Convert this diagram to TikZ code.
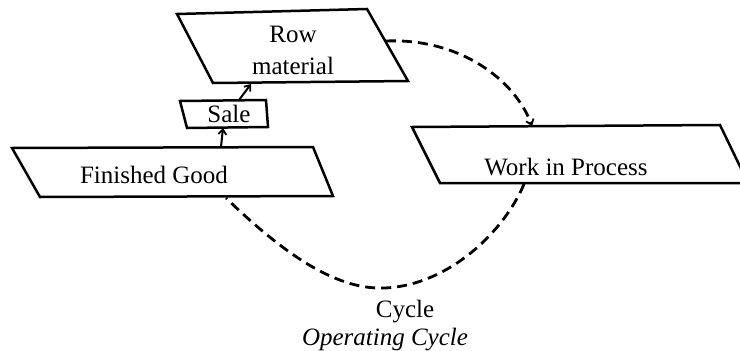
\documentclass[tikz,border=0pt]{standalone}
\usepackage{fontspec}
\setmainfont{Liberation Serif}
\usetikzlibrary{arrows.meta}
\begin{document}
\begin{tikzpicture}[x=1pt,y=-1pt,
  shapeline/.style={line width=2.5pt,line join=miter},
  label/.style={inner sep=0pt,font=\fontsize{25}{32}\selectfont},
  tip/.style={-{Straight Barb[length=5pt,width=8pt,line width=1.8pt]}},
  flowarrow/.style={line width=2pt,tip},
  cyclearrow/.style={line width=2.8pt,dash pattern=on 10pt off 6pt},
]
\useasboundingbox[fill=white] (0,0) rectangle (740,351);

% stock parallelograms
\draw[shapeline] (177,14) -- (367,9) -- (408,81) -- (213,83) -- cycle;
\draw[shapeline] (180,101) -- (266,100) -- (268,127) -- (187,128) -- cycle;
\draw[shapeline] (12,148) -- (313,147) -- (333,196) -- (40,197) -- cycle;
\draw[shapeline] (412,127) -- (720,125) -- (748,183) -- (440,183) -- cycle;

% labels
\node[label,align=center,anchor=south,text depth=0pt] (rowlbl) at (293,75) {Row\\material};
\node[label,anchor=base] (salelbl) at (229,122) {Sale};
\node[label,anchor=base] (fglbl) at (154,183) {Finished Good};
\node[label,anchor=base] (wiplbl) at (566,175) {Work in Process};
\node[label,anchor=base] (cyclbl) at (405,317) {Cycle};
\node[label,anchor=base,font=\fontsize{25}{30}\selectfont\itshape] (oplbl) at (385,345) {Operating Cycle};

% connector end points on the shape edges
\coordinate (rmR) at (386,41);
\coordinate (rmB) at (251,84);
\coordinate (saleT) at (239,100);
\coordinate (saleB) at (223,128);
\coordinate (fgT) at (221,147);
\coordinate (fgB) at (226,198);
\coordinate (wipT) at (532,126);
\coordinate (wipB) at (524,184);

% sales flow
\draw[flowarrow] (fgT) -- (saleB);
\draw[flowarrow] (saleT) -- (rmB);

% dashed cycle
\draw[cyclearrow,tip] (rmR) .. controls (460,38) and (515,80) .. (wipT);
\draw[cyclearrow]
  (wipB) .. controls (505,230) and (450,285) .. (385,288)
         .. controls (340,290) and (290,260) .. (fgB);
\end{tikzpicture}
\end{document}
